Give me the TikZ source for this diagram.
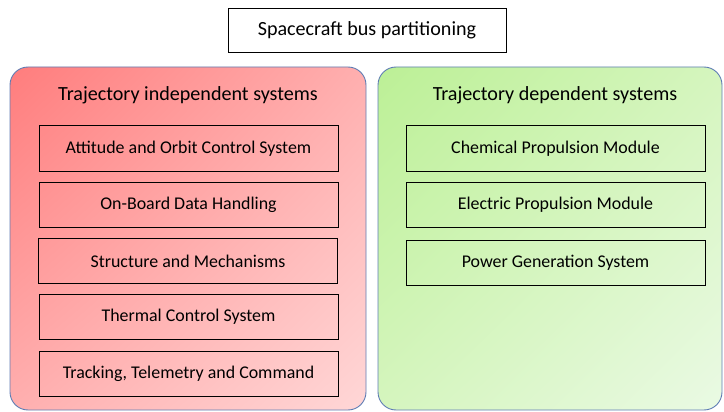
\documentclass[tikz,border=0pt]{standalone}
\usepackage{fontspec}
\setmainfont{Carlito}
\usetikzlibrary{shadings}
\definecolor{redA}{RGB}{255,125,125}
\definecolor{redM}{RGB}{255,175,175}
\definecolor{redB}{RGB}{255,215,215}
\definecolor{grnA}{RGB}{188,240,150}
\definecolor{grnM}{RGB}{213,245,190}
\definecolor{grnB}{RGB}{234,250,228}
\definecolor{frame}{RGB}{95,125,180}
\tikzset{
  titlebox/.style={draw=black, line width=0.9pt, fill=white, minimum width=278pt, minimum height=44pt, inner sep=0pt, font=\fontsize{20.1}{22}\selectfont},
  redgroup/.style={draw=frame, line width=0.9pt, rounded corners=18pt, minimum width=356pt, minimum height=343pt, inner sep=0pt,
    upper left=redA, lower right=redB, upper right=redM, lower left=redM},
  grngroup/.style={draw=frame, line width=0.9pt, rounded corners=18pt, minimum width=344pt, minimum height=343pt, inner sep=0pt,
    upper left=grnA, lower right=grnB, upper right=grnM, lower left=grnM},
  grouptitle/.style={font=\fontsize{20.1}{22}\selectfont, inner sep=0pt},
  sysbox/.style={draw=black, line width=1pt, minimum width=299pt, minimum height=45pt, inner sep=0pt, font=\fontsize{17.9}{20}\selectfont}
}
\begin{document}
\begin{tikzpicture}[x=1pt, y=-1pt]
\useasboundingbox (0,0) rectangle (724,412);
\node[titlebox] (title) at (367,30) {Spacecraft bus partitioning};
\node[redgroup] (left) at (188,238.5) {};
\node[grngroup] (right) at (550,238.5) {};
\node[grouptitle] (ltitle) at (188,95) {Trajectory independent systems};
\node[grouptitle] (rtitle) at (555,95) {Trajectory dependent systems};
\node[sysbox] (aocs) at (188.5,148.5) {Attitude and Orbit Control System};
\node[sysbox] (obdh) at (188.5,204.5) {On-Board Data Handling};
\node[sysbox] (sm) at (188,261) {Structure and Mechanisms};
\node[sysbox] (tcs) at (188.5,317) {Thermal Control System};
\node[sysbox] (ttc) at (188.5,374) {Tracking, Telemetry and Command};
\node[sysbox] (cpm) at (555.5,148.5) {Chemical Propulsion Module};
\node[sysbox] (epm) at (555.5,204.5) {Electric Propulsion Module};
\node[sysbox] (pgs) at (555.5,263) {Power Generation System};
\end{tikzpicture}
\end{document}
